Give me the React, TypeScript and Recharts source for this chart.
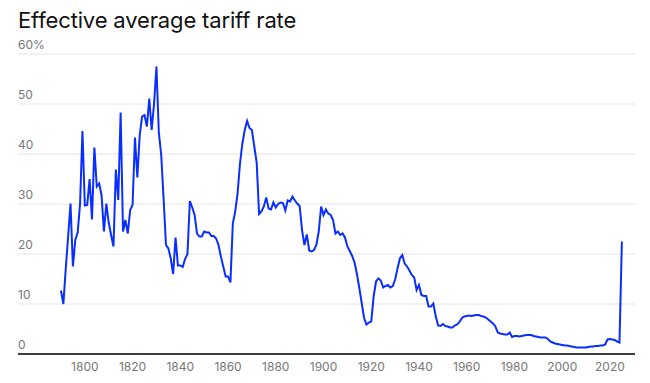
import { LineChart, Line, XAxis, YAxis, CartesianGrid } from 'recharts';

// Effective average tariff rate, %, one value per year starting 1790
const START_YEAR = 1790;

const rates1790s = [
  12.7, 10.0, 17.0, 23.5, 30.1, 17.5, 22.8, 24.3, 30.0, 44.6,
  29.7, 29.8, 35.0, 26.9, 41.3, 33.5, 34.1, 31.8, 24.5, 30.1,
  26.3, 23.8, 21.5, 36.9, 30.8, 48.3, 24.5, 26.8, 24.1, 28.8,
  29.8, 43.3, 35.3, 43.8, 47.5, 47.8, 45.5, 51.1, 44.8, 50.0,
  57.5, 44.3, 39.8, 31.1, 21.8, 21.1, 19.1, 16.0, 23.3, 17.7,
];

const rates1840s = [
  17.7, 17.4, 19.0, 20.0, 30.6, 29.3, 27.8, 24.1, 23.5, 23.5,
  24.5, 24.3, 24.3, 23.6, 23.6, 23.1, 21.8, 19.5, 17.5, 15.5,
  15.5, 14.3, 26.1, 28.5, 32.1, 38.1, 42.1, 44.8, 46.6, 45.2,
  44.8, 41.5, 38.3, 28.0, 28.5, 29.5, 31.3, 29.1, 28.9, 30.3,
  29.3, 30.0, 30.3, 30.2, 28.7, 30.7, 30.5, 31.5, 30.7, 30.1,
];

const rates1890s = [
  29.6, 24.8, 21.8, 23.9, 20.7, 20.5, 20.8, 21.8, 24.5, 29.5,
  27.8, 28.9, 28.1, 27.8, 26.8, 24.1, 24.5, 23.8, 24.1, 23.3,
  21.5, 20.6, 19.6, 18.3, 16.0, 13.2, 10.2, 7.2, 5.9, 6.3,
  6.5, 11.5, 14.5, 15.1, 14.7, 13.3, 13.6, 13.8, 13.3, 13.6,
  14.9, 17.1, 19.1, 19.8, 18.1, 17.5, 16.7, 15.8, 15.3, 12.8,
];

const rates1940s = [
  13.8, 11.8, 11.6, 11.6, 9.5, 9.5, 10.1, 7.6, 5.7, 5.6,
  6.0, 5.6, 5.5, 5.3, 5.3, 5.7, 5.9, 6.4, 7.2, 7.5,
  7.6, 7.7, 7.6, 7.7, 7.8, 7.8, 7.6, 7.5, 7.3, 6.9,
  6.5, 6.1, 5.5, 4.3, 4.1, 4.0, 3.9, 3.9, 4.3, 3.4,
  3.6, 3.6, 3.5, 3.6, 3.7, 3.8, 3.8, 3.8, 3.6, 3.5,
];

const rates1990s = [
  3.4, 3.3, 3.3, 3.3, 3.0, 2.5, 2.3, 2.1, 2.0, 1.9,
  1.8, 1.7, 1.7, 1.6, 1.5, 1.4, 1.3, 1.3, 1.3, 1.3,
  1.3, 1.4, 1.5, 1.5, 1.6, 1.6, 1.7, 1.7, 1.9, 2.9,
  3.0, 2.9, 2.8, 2.5, 2.3, 22.5,
];

const xTicks = [1800, 1820, 1840, 1860, 1880, 1900, 1920, 1940, 1960, 1980, 2000, 2020];
const yTicks = [0, 10, 20, 30, 40, 50, 60];

const rates = [...rates1790s, ...rates1840s, ...rates1890s, ...rates1940s, ...rates1990s];
const data = rates.map((rate, i) => ({ year: START_YEAR + i, rate }));

const FONT = 'Inter, "Noto Sans", sans-serif';

// y labels sit above their gridline, left aligned with the grid
const renderYTick = (props: any) => {
  const { y, payload } = props;
  const label = payload.value === 60 ? '60%' : String(payload.value);
  return (
    <text key={label} x={18} y={y - 5} fill="#777" fontSize={12} fontFamily={FONT} textAnchor="start">
      {label}
    </text>
  );
};

export default function App() {
  return (
    <div style={{ position: 'absolute', left: 0, top: 0, width: 650, height: 383, background: '#fff' }}>
      <div
        style={{
          position: 'absolute',
          left: 18,
          top: 7,
          fontFamily: FONT,
          fontSize: 22,
          letterSpacing: -0.15,
          color: '#111',
          whiteSpace: 'nowrap',
        }}
      >
        Effective average tariff rate
      </div>
      <LineChart width={650} height={383} data={data} margin={{ top: 54, right: 15, bottom: 9, left: 0 }}>
        <CartesianGrid vertical={false} stroke="#e4e4e4" />
        <XAxis
          dataKey="year"
          type="number"
          domain={[1772, 2030.5]}
          ticks={xTicks}
          tickLine={false}
          axisLine={{ stroke: '#000', strokeWidth: 1.5 }}
          tick={{ fill: '#777', fontSize: 12, fontFamily: FONT }}
          height={20}
        />
        <YAxis
          domain={[0, 60]}
          ticks={yTicks}
          width={18}
          axisLine={false}
          tickLine={false}
          tick={renderYTick}
        />
        <Line
          type="linear"
          dataKey="rate"
          stroke="#0a2eff"
          strokeWidth={2}
          dot={false}
          isAnimationActive={false}
        />
      </LineChart>
    </div>
  );
}
